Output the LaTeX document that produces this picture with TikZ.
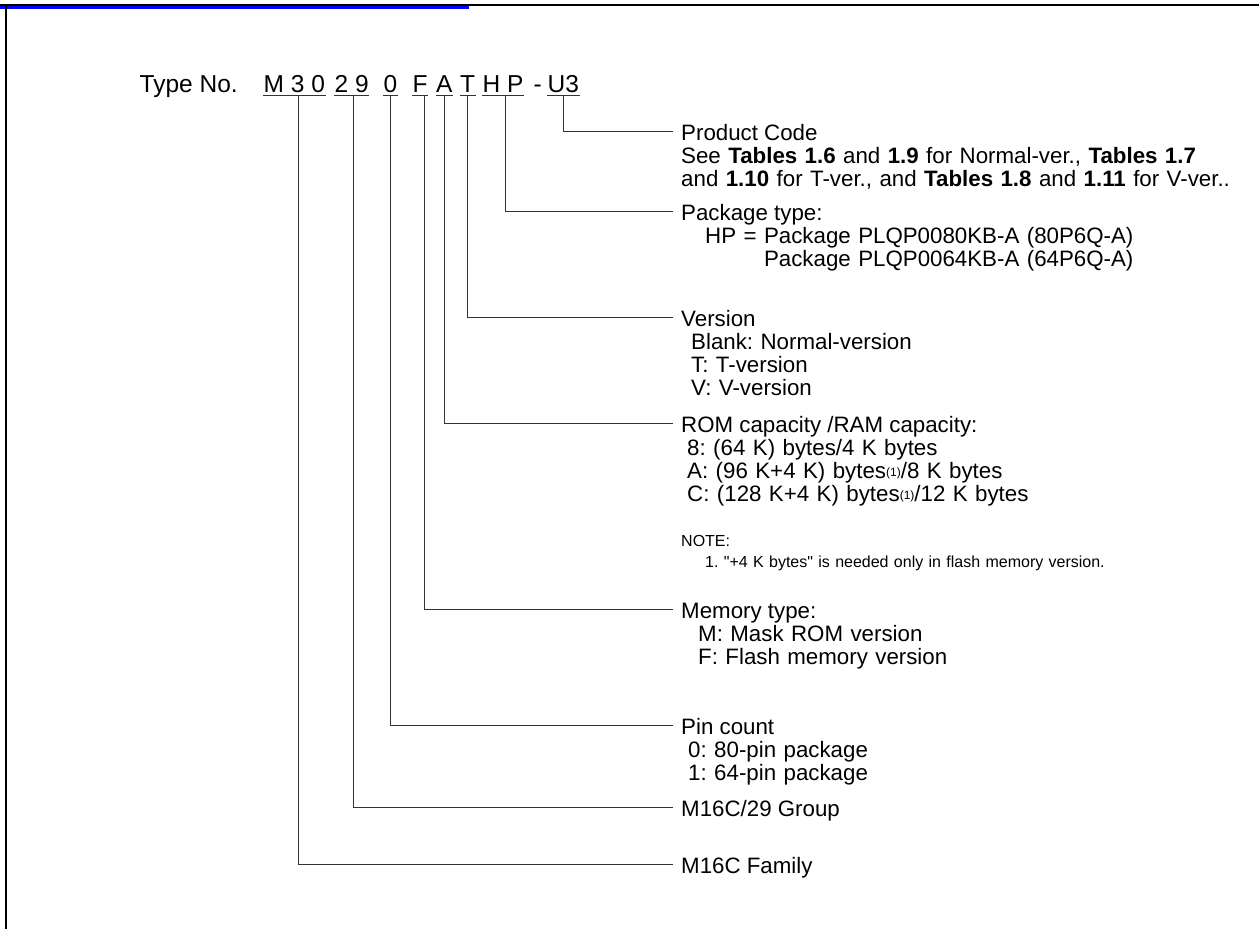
\documentclass[tikz,border=0pt]{standalone}
\usepackage{fontspec}
\setmainfont{Liberation Sans}[Ligatures=TeXOff]

\newcommand\codefont{\fontsize{24.5}{26}\selectfont}
\newcommand\descfont{\fontsize{22.3}{23.3}\selectfont\frenchspacing}
\newcommand\notefont{\fontsize{16}{21}\selectfont\frenchspacing}
\newcommand\noteref{\raisebox{2.5pt}{\fontsize{12}{12}\selectfont(1)}}

\tikzset{
    codech/.style={anchor=base west, inner xsep=0.5pt, inner ysep=0pt, text depth=3.5pt, font=\codefont},
    head/.style={anchor=base west, inner sep=0pt, text height=18pt, text depth=0pt, font=\descfont},
    body/.style={anchor=base west, inner sep=0pt, text width=570pt, align=left, font=\descfont},
    lead/.style={line width=1pt, black!80, shorten >=8pt},
    uline/.style={line width=1pt, black!80},
}

\begin{document}
\begin{tikzpicture}[x=1pt, y=-1pt]

    \useasboundingbox (0,0) rectangle (1259,929);

    % Dibujar el marco
    \draw[line width=2.5pt] (0,5) -- (1259,5);
    \draw[blue, line width=2.5pt] (0,7.5) -- (469,7.5); % Raya azul
    \draw[line width=2.3pt] (6,4) -- (6,929);

    % Dibujar el número de tipo
    \node[codech] (tipo) at (139,92) {Type No.};
    \foreach \n/\t/\x in {gM30/M 3 0/263, g29/2 9/334, g0/0/383, gF/F/412, gA/A/435.5,
                          gT/T/459.5, gHP/H P/482, guion/-/533, gU3/U3/547} {
        \node[codech] (\n) at (\x,92) {\t};
    }
    \foreach \g in {gM30, g29, g0, gF, gA, gT, gHP, gU3} {
        \draw[uline] (\g.south west) -- (\g.south east);
    }

    % Añadir las descripciones
    \node[head] (prodT) at (681,140) {Product Code};
    \node[body] (prodB) at (681,163.3) {See \textbf{Tables 1.6} and \textbf{1.9} for Normal-ver., \textbf{Tables 1.7}\\
        and \textbf{1.10} for T-ver., and \textbf{Tables 1.8} and \textbf{1.11} for V-ver..};

    \node[head] (pkgT) at (681,220) {Package type:};
    \node[body] (pkgB) at (705,243.3) {HP = Package PLQP0080KB-A (80P6Q-A)\\
        \hphantom{HP = }Package PLQP0064KB-A (64P6Q-A)};

    \node[head] (verT) at (681,326) {Version};
    \node[body] (verB) at (691,349.3) {Blank: Normal-version\\ T: T-version\\ V: V-version};

    \node[head] (romT) at (681,432) {ROM capacity /RAM capacity:};
    \node[body] (romB) at (687,455.3) {8: (64 K) bytes/4 K bytes\\
        A: (96 K+4 K) bytes\noteref/8 K bytes\\
        C: (128 K+4 K) bytes\noteref/12 K bytes};
    \node[body, font=\notefont] (nota) at (681,546) {NOTE:\\
        \hspace*{24pt}1. "+4 K bytes" is needed only in flash memory version.};

    \node[head] (memT) at (681,618) {Memory type:};
    \node[body] (memB) at (698,641.3) {M: Mask ROM version\\ F: Flash memory version};

    \node[head] (pinT) at (681,734) {Pin count};
    \node[body] (pinB) at (688,757.3) {0: 80-pin package\\ 1: 64-pin package};

    \node[head] (grpT) at (681,816) {M16C/29 Group};
    \node[head] (famT) at (681,873) {M16C Family};

    % Dibujar las líneas de referencia
    \foreach \g/\d/\dx in {gU3/prodT/0, gHP/pkgT/2, gT/verT/0, gA/romT/0,
                           gF/memT/4, g0/pinT/0, g29/grpT/2, gM30/famT/4} {
        \draw[lead] ([xshift=\dx pt]\g.south) |- (\d.west);
    }

\end{tikzpicture}
\end{document}
